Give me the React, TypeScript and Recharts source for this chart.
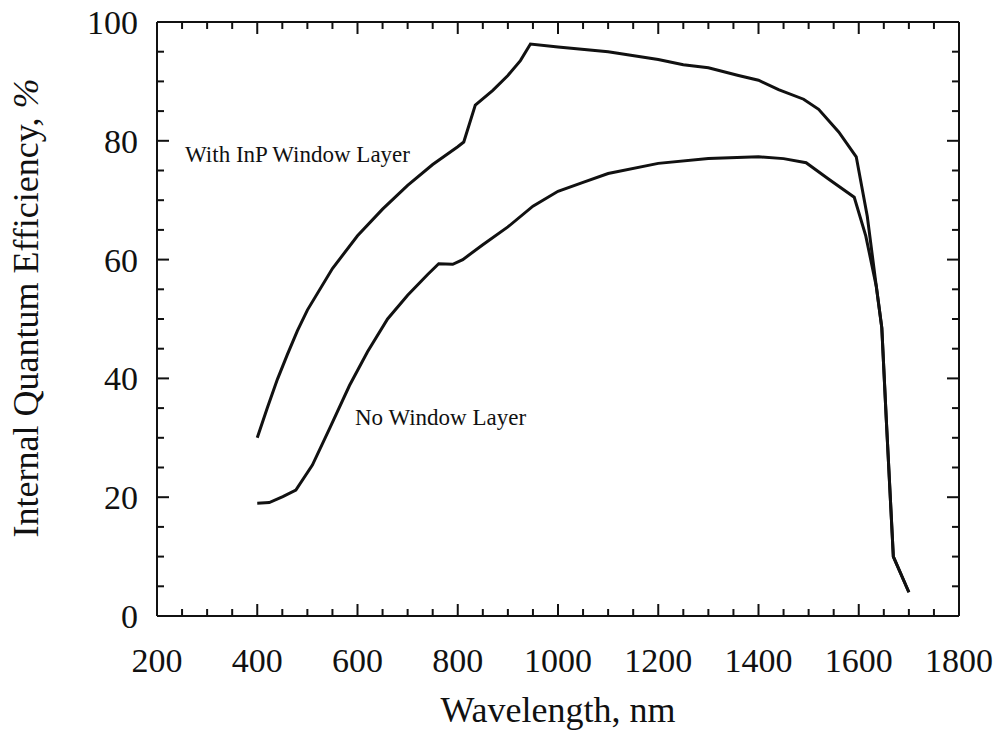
import { LineChart, Line, XAxis, YAxis, ReferenceDot } from "recharts";

// Internal quantum efficiency (%) vs wavelength (nm).
const withWindowWavelength = [
  400, 420, 440, 460, 480, 500, 550, 600, 650, 700, 750, 800, 812, 835, 870, 900,
  925, 945, 1000, 1100, 1200, 1250, 1300, 1360, 1400, 1440, 1490, 1520, 1560,
  1595, 1617, 1635, 1646, 1655, 1669, 1700,
];
const withWindowIqe = [
  30, 35, 39.8, 44, 48, 51.5, 58.5, 64, 68.5, 72.5, 76, 79, 79.8, 86, 88.5, 91,
  93.5, 96.3, 95.8, 95, 93.7, 92.8, 92.3, 91, 90.2, 88.6, 87, 85.3, 81.5, 77.3,
  67.3, 55.5, 48.5, 33, 10, 4,
];

const noWindowWavelength = [
  400, 424, 451, 477, 510, 544, 584, 620, 660, 700, 740, 762, 790, 810, 850, 900,
  950, 1000, 1050, 1100, 1200, 1300, 1400, 1450, 1495, 1541, 1591, 1614, 1635,
  1646, 1655, 1669, 1700,
];
const noWindowIqe = [
  19, 19.1, 20.1, 21.2, 25.4, 31.5, 38.8, 44.5, 50, 54, 57.5, 59.3, 59.2, 60,
  62.5, 65.5, 69, 71.5, 73, 74.5, 76.2, 77, 77.3, 77, 76.3, 73.5, 70.5, 64, 55.5,
  48.5, 33, 10, 4,
];

const xTicks = Array.from({ length: 33 }, (_, i) => 200 + i * 50);
const yTicks = Array.from({ length: 21 }, (_, i) => i * 5);

const withWindowLabel = "With InP Window Layer";
const noWindowLabel = "No Window Layer";

const withWindowData = withWindowWavelength.map((x, i) => ({ x, y: withWindowIqe[i] }));
const noWindowData = noWindowWavelength.map((x, i) => ({ x, y: noWindowIqe[i] }));

const FONT = '"Liberation Serif", "Times New Roman", serif';
const INK = "#111";

function BottomTick({ x, y, payload }: any) {
  const v = payload.value;
  const major = v % 200 === 0;
  return (
    <g>
      <line x1={x} x2={x} y1={y} y2={y - (major ? 12 : 7)} stroke={INK} strokeWidth={2} />
      {major && (
        <text x={x} y={y + 56} textAnchor="middle" fontFamily={FONT} fontSize={34} fill={INK}>
          {v}
        </text>
      )}
    </g>
  );
}

function TopTick({ x, y, payload }: any) {
  const major = payload.value % 200 === 0;
  return <line x1={x} x2={x} y1={y} y2={y + (major ? 12 : 7)} stroke={INK} strokeWidth={2} />;
}

function LeftTick({ x, y, payload }: any) {
  const v = payload.value;
  const major = v % 20 === 0;
  return (
    <g>
      <line x1={x} x2={x + (major ? 12 : 7)} y1={y} y2={y} stroke={INK} strokeWidth={2} />
      {major && (
        <text x={x - 19} y={y + 12} textAnchor="end" fontFamily={FONT} fontSize={34} fill={INK}>
          {v}
        </text>
      )}
    </g>
  );
}

function RightTick({ x, y, payload }: any) {
  const major = payload.value % 20 === 0;
  return <line x1={x} x2={x - (major ? 12 : 7)} y1={y} y2={y} stroke={INK} strokeWidth={2} />;
}

function YTitle({ viewBox }: any) {
  const bx = viewBox.x + 38;
  const cy = viewBox.y + viewBox.height / 2 - 11;
  return (
    <text
      x={bx}
      y={cy}
      transform={`rotate(-90, ${bx}, ${cy})`}
      textAnchor="middle"
      fontFamily={FONT}
      fontSize={36}
      fill={INK}
    >
      Internal Quantum Efficiency, <tspan fontStyle="italic">%</tspan>
    </text>
  );
}

function XTitle({ viewBox }: any) {
  return (
    <text
      x={viewBox.x + viewBox.width / 2}
      y={viewBox.y + 106}
      textAnchor="middle"
      fontFamily={FONT}
      fontSize={36}
      fill={INK}
    >
      Wavelength, nm
    </text>
  );
}

const annotation = (text: string) => (props: any) => {
  const { viewBox } = props;
  return (
    <text x={viewBox.x} y={viewBox.y} fontFamily={FONT} fontSize={23} fill={INK}>
      {text}
    </text>
  );
};

export default function App() {
  const frame = { stroke: INK, strokeWidth: 2 };
  return (
    <div style={{ position: "absolute", left: 0, top: 0, background: "#fff" }}>
      <LineChart width={997} height={734} margin={{ top: 0, right: 0, bottom: 0, left: 0 }}>
        <XAxis
          xAxisId="bottom"
          type="number"
          dataKey="x"
          domain={[200, 1800]}
          allowDataOverflow
          ticks={xTicks}
          interval={0}
          height={118}
          tickSize={0}
          tickMargin={0}
          tickLine={false}
          axisLine={frame}
          tick={<BottomTick />}
          label={{ content: <XTitle /> }}
        />
        <XAxis
          xAxisId="top"
          orientation="top"
          type="number"
          dataKey="x"
          domain={[200, 1800]}
          allowDataOverflow
          ticks={xTicks}
          interval={0}
          height={22}
          tickSize={0}
          tickMargin={0}
          tickLine={false}
          axisLine={frame}
          tick={<TopTick />}
        />
        <YAxis
          yAxisId="left"
          type="number"
          domain={[0, 100]}
          allowDataOverflow
          ticks={yTicks}
          interval={0}
          width={157}
          tickSize={0}
          tickMargin={0}
          tickLine={false}
          axisLine={frame}
          tick={<LeftTick />}
          label={{ content: <YTitle /> }}
        />
        <YAxis
          yAxisId="right"
          orientation="right"
          type="number"
          domain={[0, 100]}
          allowDataOverflow
          ticks={yTicks}
          interval={0}
          width={38}
          tickSize={0}
          tickMargin={0}
          tickLine={false}
          axisLine={frame}
          tick={<RightTick />}
        />
        <Line
          xAxisId="bottom"
          yAxisId="left"
          data={withWindowData}
          dataKey="y"
          type="linear"
          stroke={INK}
          strokeWidth={3}
          dot={false}
          isAnimationActive={false}
        />
        <Line
          xAxisId="bottom"
          yAxisId="left"
          data={noWindowData}
          dataKey="y"
          type="linear"
          stroke={INK}
          strokeWidth={3}
          dot={false}
          isAnimationActive={false}
        />
        <ReferenceDot
          xAxisId="bottom"
          yAxisId="left"
          x={256}
          y={76.4}
          r={0}
          stroke="none"
          label={annotation(withWindowLabel)}
        />
        <ReferenceDot
          xAxisId="bottom"
          yAxisId="left"
          x={595}
          y={32.2}
          r={0}
          stroke="none"
          label={annotation(noWindowLabel)}
        />
      </LineChart>
    </div>
  );
}
